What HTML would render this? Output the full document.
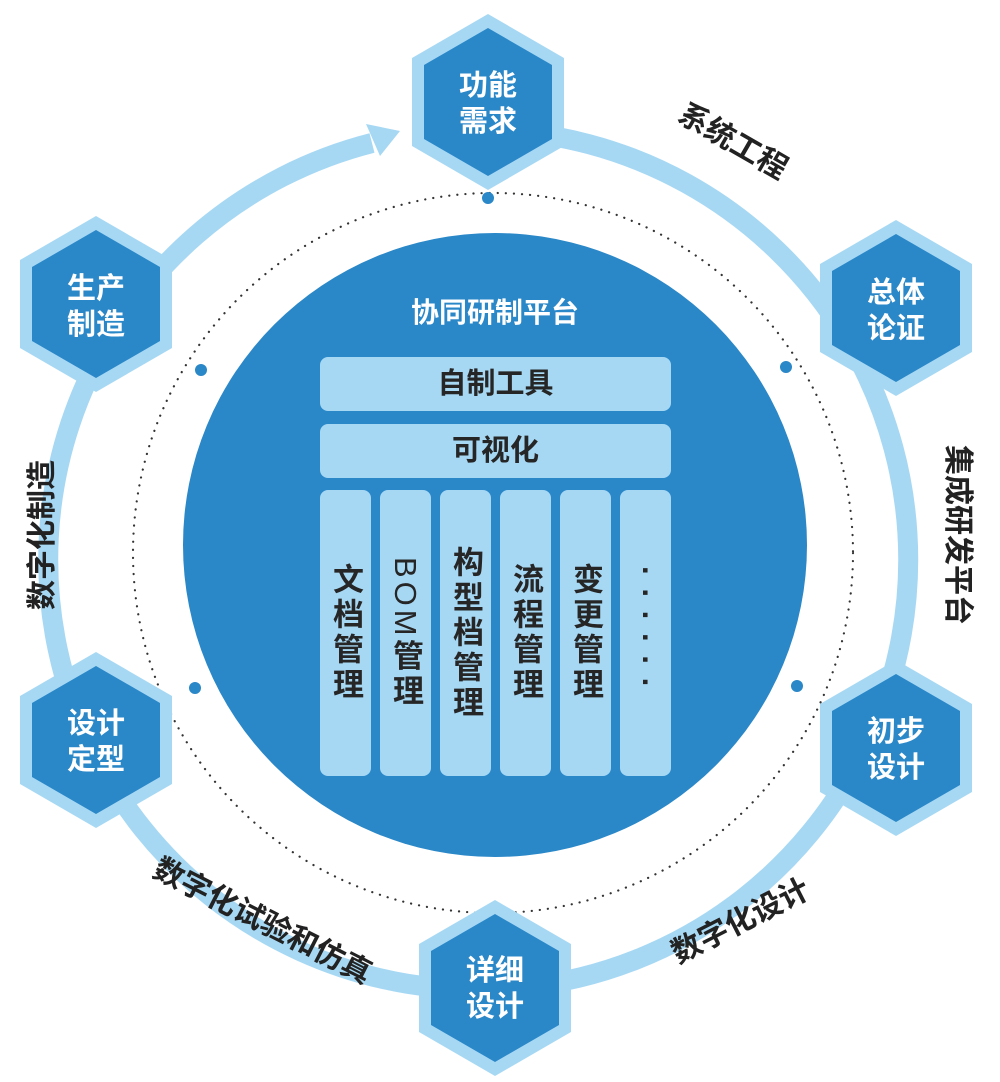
<!DOCTYPE html>
<html><head><meta charset="utf-8"><style>
body{margin:0;width:1000px;height:1082px;background:#fff;overflow:hidden;position:relative;font-family:"Liberation Sans","Noto Sans CJK SC",sans-serif;font-weight:bold}
svg{position:absolute;left:0;top:0}
.col{position:absolute;top:490px;width:51px;height:286px;background:#a6d8f4;border-radius:8px;display:flex;align-items:center;justify-content:center}
.col span{writing-mode:vertical-rl;text-orientation:mixed;font-size:31px;color:#262626;line-height:51px;letter-spacing:4px}
.bar{position:absolute;left:320px;width:351px;height:54px;background:#a6d8f4;border-radius:8px;font-size:29px;color:#262626;text-align:center;line-height:54px}
</style></head><body>
<svg width="1000" height="1082" viewBox="0 0 1000 1082" font-family="Liberation Sans, Noto Sans CJK SC, sans-serif" font-weight="bold">
<path d="M 495 130 A 430 430 0 1 1 372 143" fill="none" stroke="#a6d8f4" stroke-width="20"/>
<polygon points="366,124 400,131 380,156" fill="#a6d8f4"/>
<circle cx="493" cy="553" r="360" fill="none" stroke="#333" stroke-width="2.2" stroke-dasharray="0.1 8" stroke-linecap="round"/>
<g fill="#2a87c8">
<circle cx="488" cy="198" r="6"/><circle cx="786" cy="367" r="6"/><circle cx="797" cy="686" r="6"/><circle cx="195" cy="688" r="6"/><circle cx="201" cy="370" r="6"/>
</g>
<circle cx="495" cy="545" r="312" fill="#2a87c8"/>
<text x="495" y="322" text-anchor="middle" font-size="28" fill="#fff">协同研制平台</text>
<defs>
<g id="hx"><polygon points="0,-88 76,-44 76,44 0,88 -76,44 -76,-44" fill="#a6d8f4"/><polygon points="0,-74 64,-37 64,37 0,74 -64,37 -64,-37" fill="#2a87c8"/></g>
</defs>
<g font-size="29" fill="#fff" text-anchor="middle">
<use href="#hx" x="488" y="102"/><text x="488" y="95">功能</text><text x="488" y="131">需求</text>
<use href="#hx" x="896" y="308"/><text x="896" y="302">总体</text><text x="896" y="338">论证</text>
<use href="#hx" x="896" y="748"/><text x="896" y="741">初步</text><text x="896" y="777">设计</text>
<use href="#hx" x="495" y="988"/><text x="495" y="980">详细</text><text x="495" y="1016">设计</text>
<use href="#hx" x="96" y="740"/><text x="96" y="733">设计</text><text x="96" y="769">定型</text>
<use href="#hx" x="96" y="304"/><text x="96" y="298">生产</text><text x="96" y="334">制造</text>
</g>
<g font-size="30" fill="#222" text-anchor="middle">
<text transform="translate(728,150) rotate(30)">系统工程</text>
<text transform="translate(948,535) rotate(90)">集成研发平台</text>
<text transform="translate(745,930) rotate(-27)">数字化设计</text>
<text transform="translate(258,930) rotate(27)">数字化试验和仿真</text>
<text transform="translate(52,535) rotate(-90)">数字化制造</text>
</g>
</svg>
<div class="bar" style="top:357px">自制工具</div>
<div class="bar" style="top:424px">可视化</div>
<div class="col" style="left:320px"><span>文档管理</span></div>
<div class="col" style="left:380px"><span style="font-weight:normal">BOM<b>管理</b></span></div>
<div class="col" style="left:440px"><span>构型档管理</span></div>
<div class="col" style="left:500px"><span>流程管理</span></div>
<div class="col" style="left:560px"><span>变更管理</span></div>
<div class="col" style="left:620px"><span style="letter-spacing:12px">······</span></div>
</body></html>
